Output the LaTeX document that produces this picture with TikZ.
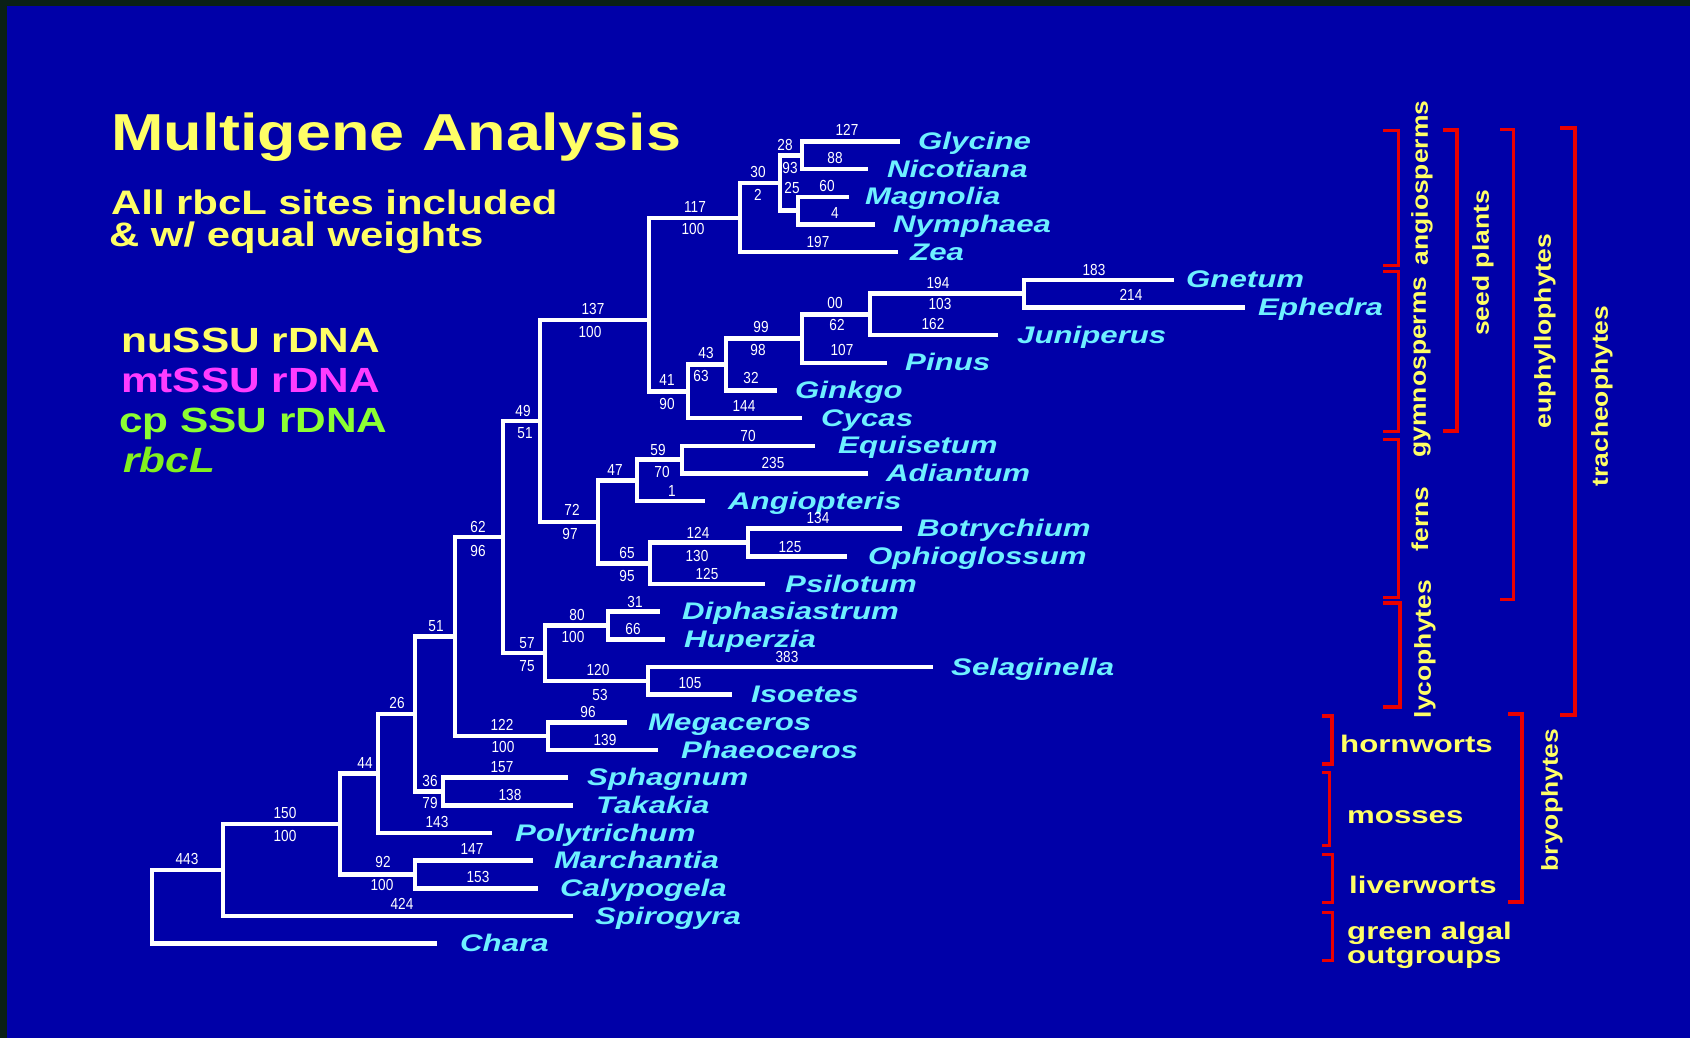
\documentclass[tikz,border=0pt]{standalone}
\usepackage{fontspec}
\setmainfont{Liberation Sans}
\newfontfamily\taxfont[FakeStretch=1.3]{Liberation Sans}
\newfontfamily\numfont[FakeStretch=0.85]{Liberation Sans}
\newfontfamily\titlefont[FakeStretch=1.21]{Liberation Sans}
\newfontfamily\subfont[FakeStretch=1.23]{Liberation Sans}
\newfontfamily\legfont[FakeStretch=1.21]{Liberation Sans}
\newfontfamily\grpfont[FakeStretch=1.3]{Liberation Sans}
\newfontfamily\rotfont[FakeStretch=1.15]{Liberation Sans}
\definecolor{bgblue}{RGB}{0,0,168}
\definecolor{edgedark}{RGB}{10,32,22}
\definecolor{taxcyan}{RGB}{110,240,255}
\definecolor{ttlyellow}{RGB}{255,255,102}
\definecolor{mtmag}{RGB}{255,60,255}
\definecolor{cpgreen}{RGB}{140,255,50}
\definecolor{rbgreen}{RGB}{130,240,30}
\definecolor{brred}{RGB}{235,0,0}
\tikzset{
  branch/.style={draw=white, line width=4.5pt},
  lab/.style={text=white, font=\numfont\fontsize{16}{16}\selectfont, inner sep=0pt},
  tax/.style={text=taxcyan, font=\taxfont\bfseries\itshape\fontsize{24}{24}\selectfont, anchor=base west, inner sep=0pt},
  grp/.style={text=ttlyellow, font=\grpfont\bfseries\fontsize{24}{26}\selectfont, anchor=base west, inner sep=0pt},
  rot/.style={text=ttlyellow, font=\rotfont\bfseries\fontsize{23}{23}\selectfont, rotate=90, inner sep=0pt},
  brk/.style={draw=brred, line width=3pt},
  brkthick/.style={draw=brred, line width=4pt},
  legend/.style={font=\legfont\bfseries\fontsize{35}{35}\selectfont, anchor=base west, inner sep=0pt},
}
\begin{document}
\begin{tikzpicture}[x=1pt,y=-1pt]
\useasboundingbox (0,0) rectangle (1690,1038);
\fill[bgblue] (0,0) rectangle (1690,1038);
\fill[edgedark] (0,0) rectangle (1690,6);
\fill[edgedark] (0,0) rectangle (7,1038);

% title and legend
\node[anchor=base west, inner sep=0pt, text=ttlyellow, font=\titlefont\bfseries\fontsize{52}{52}\selectfont] (title) at (111,151) {Multigene Analysis};
\node[anchor=base west, inner sep=0pt, text=ttlyellow, font=\subfont\bfseries\fontsize{34}{34}\selectfont] (sub1) at (111,214) {All rbcL sites included};
\node[anchor=base west, inner sep=0pt, text=ttlyellow, font=\subfont\bfseries\fontsize{34}{34}\selectfont] (sub2) at (109,246) {\& w/ equal weights};
\node[legend, text=ttlyellow] (leg1) at (121,352) {nuSSU rDNA};
\node[legend, text=mtmag] (leg2) at (121,392) {mtSSU rDNA};
\node[legend, text=cpgreen] (leg3) at (119,432) {cp SSU rDNA};
\node[legend, text=rbgreen, font=\legfont\bfseries\itshape\fontsize{35}{35}\selectfont] (leg4) at (123,472) {rbcL};

% leaf ends and labels
\foreach \nm/\y/\ex/\tx in {Glycine/141.5/900/918, Nicotiana/169.2/868/887, Magnolia/196.8/849/865, Nymphaea/224.5/875/893, Zea/252.1/898/910, Gnetum/279.8/1174/1186, Ephedra/307.5/1245/1258, Juniperus/335.1/998/1017, Pinus/362.8/887/905, Ginkgo/390.4/777/795, Cycas/418.1/802/821, Equisetum/445.8/815/838, Adiantum/473.4/868/886, Angiopteris/501.1/705/728, Botrychium/528.7/902/917, Ophioglossum/556.4/847/868, Psilotum/584.1/765/785, Diphasiastrum/611.7/660/682, Huperzia/639.4/665/684, Selaginella/667.0/933/951, Isoetes/694.7/732/751, Megaceros/722.4/627/648, Phaeoceros/750.0/658/681, Sphagnum/777.7/568/587, Takakia/805.3/573/596, Polytrichum/833.0/492/515, Marchantia/860.7/533/554, Calypogela/888.3/538/560, Spirogyra/916.0/573/595, Chara/943.6/437/460}{
  \coordinate (e\nm) at (\ex,\y);
  \node[tax] (t\nm) at (\tx,\y+8) {\nm};
}

% internal nodes
\coordinate (n1) at (802,155.4);
\coordinate (n2) at (798,210.7);
\coordinate (n3) at (780,183);
\coordinate (n4) at (740,218);
\coordinate (n5) at (1024,293.6);
\coordinate (n6) at (870,314.4);
\coordinate (n7) at (802,338.6);
\coordinate (n8) at (726,364.5);
\coordinate (n9) at (688,391.3);
\coordinate (n10) at (649,320);
\coordinate (n11) at (682,459.6);
\coordinate (n12) at (637,480.4);
\coordinate (n13) at (748,542.5);
\coordinate (n14) at (650,563.3);
\coordinate (n15) at (598,521.8);
\coordinate (n16) at (540,421);
\coordinate (n17) at (608,625.5);
\coordinate (n18) at (648,680.9);
\coordinate (n19) at (545,653.2);
\coordinate (n20) at (503,537.1);
\coordinate (n21) at (548,736.2);
\coordinate (n22) at (455,636.7);
\coordinate (n23) at (443,791.5);
\coordinate (n24) at (415,714.1);
\coordinate (n25) at (378,773.5);
\coordinate (n26) at (415,874.5);
\coordinate (n27) at (340,824);
\coordinate (n28) at (223,870);
\coordinate (n29) at (152,906.8);

\foreach \p/\c in {n1/eGlycine, n1/eNicotiana, n2/eMagnolia, n2/eNymphaea, n3/n1, n3/n2, n4/n3, n4/eZea,
  n5/eGnetum, n5/eEphedra, n6/n5, n6/eJuniperus, n7/n6, n7/ePinus, n8/n7, n8/eGinkgo, n9/n8, n9/eCycas,
  n10/n4, n10/n9, n11/eEquisetum, n11/eAdiantum, n12/n11, n12/eAngiopteris, n13/eBotrychium, n13/eOphioglossum,
  n14/n13, n14/ePsilotum, n15/n12, n15/n14, n16/n10, n16/n15, n17/eDiphasiastrum, n17/eHuperzia,
  n18/eSelaginella, n18/eIsoetes, n19/n17, n19/n18, n20/n16, n20/n19, n21/eMegaceros, n21/ePhaeoceros,
  n22/n20, n22/n21, n23/eSphagnum, n23/eTakakia, n24/n22, n24/n23, n25/n24, n25/ePolytrichum,
  n26/eMarchantia, n26/eCalypogela, n27/n25, n27/n26, n28/n27, n28/eSpirogyra, n29/n28, n29/eChara}{
  \draw[branch] (\p) |- (\c);
}

% branch numbers
\foreach \i/\x/\y/\t in {1/847/130/127, 2/835/158/88, 3/827/186/60, 4/835/213/4, 5/785/145/28, 6/790/168/93, 7/792/188/25,
  8/758/172/30, 9/758/195/2, 10/818/242/197, 11/695/207/117, 12/693/229/100,
  13/1094/270/183, 14/1131/295/214, 15/938/283/194, 16/940/304/103, 17/933/324/162, 18/835/303/00, 19/837/325/62,
  20/842/350/107, 21/761/327/99, 22/758/350/98, 23/751/378/32, 24/706/353/43, 25/701/376/63, 26/744/406/144,
  27/667/380/41, 28/667/404/90, 29/593/309/137, 30/590/332/100,
  31/523/411/49, 32/525/433/51, 33/572/510/72, 34/570/534/97, 35/615/470/47, 36/658/450/59, 37/662/472/70,
  38/748/436/70, 39/773/463/235, 40/672/491/1, 41/627/553/65, 42/627/576/95, 43/698/533/124, 44/697/556/130,
  45/818/518/134, 46/790/547/125, 47/707/574/125,
  48/527/643/57, 49/527/666/75, 50/577/615/80, 51/573/637/100, 52/635/602/31, 53/633/629/66, 54/598/670/120,
  55/600/695/53, 56/787/657/383, 57/690/683/105, 58/478/527/62, 59/478/551/96,
  60/502/725/122, 61/503/747/100, 62/588/712/96, 63/605/740/139, 64/436/626/51,
  65/502/767/157, 66/510/795/138, 67/430/781/36, 68/430/803/79, 69/397/703/26, 70/437/822/143, 71/365/763/44,
  72/383/862/92, 73/382/885/100, 74/472/849/147, 75/478/877/153, 76/285/813/150, 77/285/836/100, 78/402/904/424,
  79/187/859/443}{
  \node[lab] (b\i) at (\x,\y) {\t};
}

% brackets
\draw[brk] (1383,131) -- (1398,131) -- (1398,265) -- (1383,265);
\draw[brk] (1383,271) -- (1398,271) -- (1398,431) -- (1383,431);
\draw[brk] (1383,439) -- (1398,439) -- (1398,597) -- (1383,597);
\draw[brkthick] (1383,603) -- (1400,603) -- (1400,707) -- (1383,707);
\draw[brkthick] (1443,130) -- (1457,130) -- (1457,431) -- (1443,431);
\draw[brk] (1500,130) -- (1513,130) -- (1513,599) -- (1500,599);
\draw[brkthick] (1560,128) -- (1575,128) -- (1575,715) -- (1560,715);
\draw[brkthick] (1322,716) -- (1332,716) -- (1332,764) -- (1322,764);
\draw[brk] (1322,772) -- (1329,772) -- (1329,845) -- (1322,845);
\draw[brk] (1322,854) -- (1332,854) -- (1332,902) -- (1322,902);
\draw[brk] (1322,912) -- (1332,912) -- (1332,960) -- (1322,960);
\draw[brkthick] (1508,714) -- (1522,714) -- (1522,902) -- (1508,902);

% group labels
\node[rot] (gAngio) at (1422,183) {angiosperms};
\node[rot] (gGymno) at (1422,367) {gymnosperms};
\node[rot] (gFerns) at (1420,519) {ferns};
\node[rot] (gLyco) at (1425,649) {lycophytes};
\node[rot] (gSeed) at (1483,263) {seed plants};
\node[rot] (gEuph) at (1545,331) {euphyllophytes};
\node[rot] (gTrach) at (1602,396) {tracheophytes};
\node[rot] (gBryo) at (1552,800) {bryophytes};
\node[grp] (gHorn) at (1340,752) {hornworts};
\node[grp] (gMoss) at (1347,823) {mosses};
\node[grp] (gLiver) at (1349,893) {liverworts};
\node[grp] (gAlg1) at (1347,939) {green algal};
\node[grp] (gAlg2) at (1347,963) {outgroups};
\end{tikzpicture}
\end{document}
